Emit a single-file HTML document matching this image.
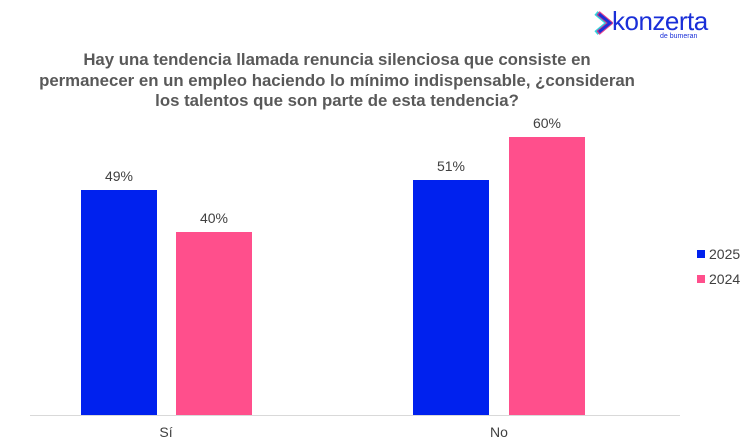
<!DOCTYPE html>
<html><head><meta charset="utf-8"><style>
body{margin:0;width:756px;height:441px;background:#fff;font-family:"Liberation Sans",sans-serif;position:relative;overflow:hidden}
.t{position:absolute;left:7px;width:660px;top:50px;text-align:center;font-weight:bold;font-size:16.8px;line-height:20.5px;color:#595959;white-space:nowrap}
.b{position:absolute}
.l{position:absolute;font-size:14px;color:#404040;width:80px;text-align:center}
</style></head><body>
<div class="t">Hay una tendencia llamada renuncia silenciosa que consiste en<br>permanecer en un empleo haciendo lo mínimo indispensable, ¿consideran<br>los talentos que son parte de esta tendencia?</div>
<svg style="position:absolute;left:593px;top:10px" width="20" height="26"><path d="M3 3 L15 13 L3 23" stroke="#2fd6e0" stroke-width="5" fill="none"/><path d="M5 3 L17 13 L5 23" stroke="#e0207a" stroke-width="5" fill="none" opacity=".85"/><path d="M6 4 L17 13 L6 22" stroke="#1a2fd8" stroke-width="3" fill="none"/></svg>
<div style="position:absolute;left:612px;top:6px;font-size:26px;color:#1a2fd8;letter-spacing:-0.5px">konzerta</div>
<div style="position:absolute;left:660px;top:33px;font-size:7px;color:#1a2fd8">de bumeran</div>
<div class="b" style="left:81px;top:190px;width:76px;height:226px;background:#0021ee"></div>
<div class="b" style="left:176px;top:232px;width:76px;height:184px;background:#ff4f8c"></div>
<div class="b" style="left:413px;top:180px;width:76px;height:236px;background:#0021ee"></div>
<div class="b" style="left:509px;top:137px;width:76px;height:279px;background:#ff4f8c"></div>
<div class="b" style="left:30px;top:415px;width:650px;height:1px;background:#d9d9d9"></div>
<div class="l" style="left:79px;top:168px">49%</div>
<div class="l" style="left:174px;top:210px">40%</div>
<div class="l" style="left:411px;top:158px">51%</div>
<div class="l" style="left:507px;top:115px">60%</div>
<div class="l" style="left:126px;top:424px">Sí</div>
<div class="l" style="left:459px;top:424px">No</div>
<div class="b" style="left:697px;top:250px;width:8px;height:8px;background:#0021ee"></div>
<div class="b" style="left:697px;top:275px;width:8px;height:8px;background:#ff4f8c"></div>
<div style="position:absolute;left:709px;top:246px;font-size:14px;color:#404040">2025</div>
<div style="position:absolute;left:709px;top:271px;font-size:14px;color:#404040">2024</div>
</body></html>
